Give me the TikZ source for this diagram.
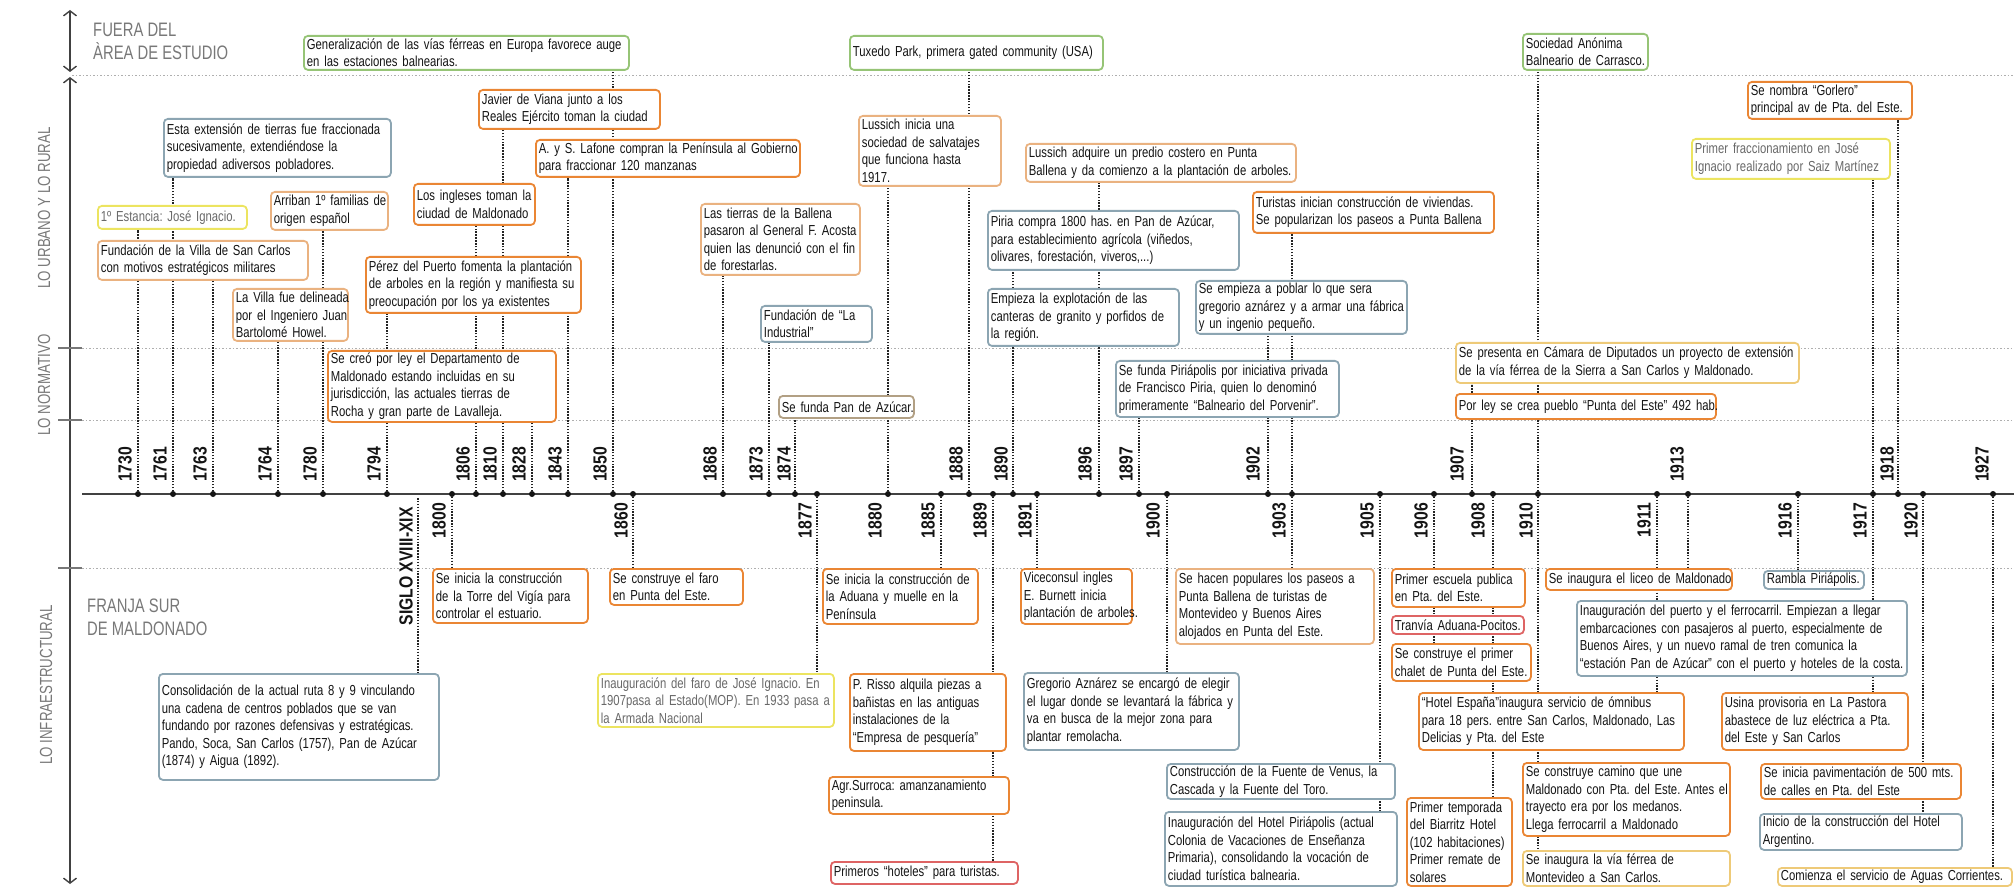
\documentclass[tikz,border=0pt]{standalone}
\usepackage{fontspec}
\setmainfont{Liberation Sans}[FakeStretch=0.78]
\newfontfamily\yrfont{Liberation Sans}[FakeStretch=0.83]
\newfontfamily\lblfont{Liberation Sans}[FakeStretch=0.76]
\usetikzlibrary{arrows.meta,backgrounds}
\frenchspacing

\definecolor{txt}{RGB}{20,20,20}
\definecolor{txtg}{RGB}{105,105,105}
\definecolor{lblc}{RGB}{120,120,120}
\definecolor{lnkc}{RGB}{35,35,35}
\definecolor{gridc}{RGB}{175,175,175}
\definecolor{axc}{RGB}{65,65,65}
\definecolor{cOrg}{RGB}{234,134,52}
\definecolor{cLOrg}{RGB}{234,178,128}
\definecolor{cBlu}{RGB}{140,165,178}
\definecolor{cYel}{RGB}{236,228,96}
\definecolor{cGrn}{RGB}{150,196,118}
\definecolor{cRed}{RGB}{222,100,100}
\definecolor{cTan}{RGB}{178,160,132}
\definecolor{cYOrg}{RGB}{238,202,120}

\newcommand\jline[1]{\makebox[\linewidth][s]{#1}}

\tikzset{
  evbox/.style={draw, rounded corners=4pt, line width=1.8pt, fill=white,
    inner xsep=3pt, inner ysep=2pt, anchor=north west, align=left,
    text=txt, font=\frenchspacing\fontsize{14.5}{17.5}\selectfont},
  bxorg/.style={evbox, draw=cOrg},
  bxlorg/.style={evbox, draw=cLOrg},
  bxblu/.style={evbox, draw=cBlu},
  bxyel/.style={evbox, draw=cYel, text=txtg},
  bxgrn/.style={evbox, draw=cGrn},
  bxred/.style={evbox, draw=cRed},
  bxtan/.style={evbox, draw=cTan},
  bxyorg/.style={evbox, draw=cYOrg},
  yru/.style={rotate=90, anchor=west, inner sep=0pt, text=txt,
    font=\yrfont\bfseries\fontsize{19}{19}\selectfont},
  yrd/.style={yru, anchor=east},
  lnk/.style={draw=lnkc, line width=1.7pt, dash pattern=on 1.5pt off 1.4pt},
  guide/.style={draw=gridc, line width=0.9pt, dash pattern=on 1.5pt off 2pt},
  tick/.style={draw=lblc, line width=1.2pt},
  dotc/.style={fill=txt},
  side/.style={rotate=90, inner sep=0pt, text=lblc,
    font=\lblfont\fontsize{17.5}{17.5}\selectfont},
  zone/.style={anchor=north west, align=left, inner sep=0pt, text=lblc,
    font=\lblfont\fontsize{19.5}{23}\selectfont},
  axarr/.style={draw=axc, line width=1.4pt, >={Straight Barb[length=5pt,width=13pt]}, <->}
}

\begin{document}
\begin{tikzpicture}[x=1pt,y=-1pt]
\useasboundingbox (0,0) rectangle (2014,893);

% ejes y zonas
\draw[axarr] (70,10) -- (70,72);
\draw[axarr] (70,77) -- (70,884);
\draw[tick] (58,348) -- (82,348);
\draw[tick] (58,420) -- (82,420);
\draw[tick] (58,568) -- (82,568);
\node[zone] (fuera) at (93,23) {FUERA DEL\\ÀREA DE ESTUDIO};
\node[zone] (franja) at (87,599) {FRANJA SUR\\DE MALDONADO};
\node[side] (urbano) at (44,208) {LO URBANO Y LO RURAL};
\node[side] (normativo) at (44,385) {LO NORMATIVO};
\node[side] (infra) at (46,685) {LO INFRAESTRUCTURAL};

% fuera del area de estudio
\node[bxgrn, text width=319pt, minimum height=34pt] (gen) at (303,35) {\jline{Generalización de las vías férreas en Europa favorece auge}\\ en las estaciones balnearias.};
\node[bxgrn, text width=247pt, minimum height=34pt] (tux) at (849,35) {\mbox{Tuxedo Park, primera gated community (USA)}};
\node[bxgrn, text width=119pt, minimum height=36pt] (carr) at (1522,33) {\jline{Sociedad Anónima}\\ \mbox{Balneario de Carrasco.}};

% lo urbano y lo rural / lo normativo
\node[bxblu, text width=221pt, minimum height=58pt] (ext) at (163,118) {\jline{Esta extensión de tierras fue fraccionada}\\ \jline{sucesivamente, extendiéndose la}\\ propiedad adiversos pobladores.};
\node[bxyel, text width=143pt, minimum height=23pt] (est) at (97,205) {\mbox{1º Estancia: José Ignacio.}};
\node[bxlorg, text width=111pt, minimum height=38pt] (arr) at (270,191) {\jline{Arriban 1º familias de}\\ origen español};
\node[bxlorg, text width=204pt, minimum height=39pt] (fsc) at (97,240) {\jline{Fundación de la Villa de San Carlos}\\ con motivos estratégicos militares};
\node[bxlorg, text width=109pt, minimum height=52pt] (vil) at (232,288) {\jline{La Villa fue delineada}\\ \jline{por el Ingeniero Juan}\\ Bartolomé Howel.};
\node[bxorg, text width=175pt, minimum height=39pt] (via) at (478,89) {\jline{Javier de Viana junto a los}\\ Reales Ejército toman la ciudad};
\node[bxorg, text width=115pt, minimum height=41pt] (ing) at (413,183) {\jline{Los ingleses toman la}\\ ciudad de Maldonado};
\node[bxorg, text width=209pt, minimum height=56pt] (per) at (365,256) {\jline{Pérez del Puerto fomenta la plantación}\\ \jline{de arboles en la región y manifiesta su}\\ preocupación por los ya existentes};
\node[bxorg, text width=222pt, minimum height=71pt] (cre) at (327,350) {\jline{Se creó por ley el Departamento de}\\ \jline{Maldonado estando incluidas en su}\\ \jline{jurisdicción, las actuales tierras de}\\ Rocha y gran parte de Lavalleja.};
\node[bxorg, text width=258pt, minimum height=37pt] (laf) at (535,139) {\jline{A. y S. Lafone compran la Península al Gobierno}\\ para fraccionar 120 manzanas};
\node[bxlorg, text width=153pt, minimum height=71pt] (bal) at (700,203) {\jline{Las tierras de la Ballena}\\ \jline{pasaron al General F. Acosta}\\ \jline{quien las denunció con el fin}\\ de forestarlas.};
\node[bxblu, text width=105pt, minimum height=36pt] (ind) at (760,305) {\jline{Fundación de “La}\\ Industrial”};
\node[bxtan, text width=129pt, minimum height=22pt] (paz) at (778,395) {\mbox{Se funda Pan de Azúcar.}};
\node[bxlorg, text width=136pt, minimum height=70pt] (lua) at (858,115) {\jline{Lussich inicia una}\\ \jline{sociedad de salvatajes}\\ \jline{que funciona hasta}\\ 1917.};
\node[bxlorg, text width=264pt, minimum height=38pt] (lub) at (1025,143) {\jline{Lussich adquire un predio costero en Punta}\\ Ballena y da comienzo a la plantación de arboles.};
\node[bxblu, text width=245pt, minimum height=59pt] (pir) at (987,210) {\jline{Piria compra 1800 has. en Pan de Azúcar,}\\ \jline{para establecimiento agrícola (viñedos,}\\ olivares, forestación, viveros,...)};
\node[bxblu, text width=185pt, minimum height=57pt] (emp) at (987,288) {\jline{Empieza la explotación de las}\\ \jline{canteras de granito y porfidos de}\\ la región.};
\node[bxorg, text width=235pt, minimum height=41pt] (tur) at (1252,191) {\jline{Turistas inician construcción de viviendas.}\\ Se popularizan los paseos a Punta Ballena};
\node[bxblu, text width=205pt, minimum height=53pt] (pob) at (1195,280) {\jline{Se empieza a poblar lo que sera}\\ \jline{gregorio aznárez y a armar una fábrica}\\ y un ingenio pequeño.};
\node[bxblu, text width=217pt, minimum height=56pt] (ppo) at (1115,360) {\jline{Se funda Piriápolis por iniciativa privada}\\ \jline{de Francisco Piria, quien lo denominó}\\ primeramente “Balneario del Porvenir”.};
\node[bxorg, text width=158pt, minimum height=37pt] (gor) at (1747,81) {\jline{Se nombra “Gorlero”}\\ principal av de Pta. del Este.};
\node[bxyel, text width=192pt, minimum height=40pt] (fra) at (1691,138) {\jline{Primer fraccionamiento en José}\\ Ignacio realizado por Saiz Martínez};
\node[bxyorg, text width=337pt, minimum height=40pt] (pre) at (1455,342) {\jline{Se presenta en Cámara de Diputados un proyecto de extensión}\\ de la vía férrea de la Sierra a San Carlos y Maldonado.};
\node[bxorg, text width=254pt, minimum height=25pt] (ley) at (1455,393) {\mbox{Por ley se crea pueblo “Punta del Este” 492 hab.}};

% lo infraestructural
\node[bxblu, text width=274pt, minimum height=106pt] (con) at (158,673) {\jline{Consolidación de la actual ruta 8 y 9 vinculando}\\ \jline{una cadena de centros poblados que se van}\\ \jline{fundando por razones defensivas y estratégicas.}\\ \jline{Pando, Soca, San Carlos (1757), Pan de Azúcar}\\ (1874) y Aigua (1892).};
\node[bxorg, text width=149pt, minimum height=54pt] (tor) at (432,568) {\jline{Se inicia la construcción}\\ \jline{de la Torre del Vigía para}\\ controlar el estuario.};
\node[bxorg, text width=127pt, minimum height=36pt] (fpe) at (609,568) {\jline{Se construye el faro}\\ en Punta del Este.};
\node[bxorg, text width=149pt, minimum height=55pt] (adu) at (822,568) {\jline{Se inicia la construcción de}\\ \jline{la Aduana y muelle en la}\\ Península};
\node[bxyel, text width=230pt, minimum height=53pt] (fji) at (597,673) {\jline{Inauguración del faro de José Ignacio. En}\\ \jline{1907pasa al Estado(MOP). En 1933 pasa a}\\ la Armada Nacional};
\node[bxorg, text width=150pt, minimum height=77pt] (ris) at (849,673) {\jline{P. Risso alquila piezas a}\\ \jline{bañistas en las antiguas}\\ \jline{instalaciones de la}\\ “Empresa de pesquería”};
\node[bxorg, text width=174pt, minimum height=37pt] (sur) at (828,776) {\jline{Agr.Surroca: amanzanamiento}\\ peninsula.};
\node[bxred, text width=181pt, minimum height=22pt] (hot) at (830,861) {\mbox{Primeros “hoteles” para turistas.}};
\node[bxorg, text width=105pt, minimum height=55pt] (vic) at (1020,568) {\jline{Viceconsul ingles}\\ \jline{E. Burnett inicia}\\ \mbox{plantación de arboles.}};
\node[bxblu, text width=209pt, minimum height=77pt] (gre) at (1023,672) {\jline{Gregorio Aznárez se encargó de elegir}\\ \jline{el lugar donde se levantará la fábrica y}\\ \jline{va en busca de la mejor zona para}\\ plantar remolacha.};
\node[bxlorg, text width=192pt, minimum height=75pt] (pas) at (1175,568) {\jline{Se hacen populares los paseos a}\\ \jline{Punta Ballena de turistas de}\\ \jline{Montevideo y Buenos Aires}\\ alojados en Punta del Este.};
\node[bxblu, text width=222pt, minimum height=35pt] (ven) at (1166,763) {\jline{Construcción de la Fuente de Venus, la}\\ Cascada y la Fuente del Toro.};
\node[bxblu, text width=226pt, minimum height=74pt] (hpi) at (1164,811) {\jline{Inauguración del Hotel Piriápolis (actual}\\ \jline{Colonia de Vacaciones de Enseñanza}\\ \jline{Primaria), consolidando la vocación de}\\ ciudad turística balnearia.};
\node[bxorg, text width=127pt, minimum height=38pt] (esc) at (1391,568) {\jline{Primer escuela publica}\\ en Pta. del Este.};
\node[bxred, text width=126pt, minimum height=18pt] (tra) at (1391,615) {\mbox{Tranvía Aduana-Pocitos.}};
\node[bxorg, text width=133pt, minimum height=37pt] (cha) at (1391,643) {\jline{Se construye el primer}\\ \mbox{chalet de Punta del Este.}};
\node[bxorg, text width=259pt, minimum height=57pt] (esp) at (1418,692) {\jline{“Hotel España”inaugura servicio de ómnibus}\\ \jline{para 18 pers. entre San Carlos, Maldonado, Las}\\ Delicias y Pta. del Este};
\node[bxorg, text width=99pt, minimum height=88pt] (tem) at (1406,797) {\jline{Primer temporada}\\ \jline{del Biarritz Hotel}\\ \jline{(102 habitaciones)}\\ \jline{Primer remate de}\\ solares};
\node[bxorg, text width=201pt, minimum height=73pt] (cam) at (1522,762) {\jline{Se construye camino que une}\\ \jline{Maldonado con Pta. del Este. Antes el}\\ trayecto era por los medanos.\\ Llega ferrocarril a Maldonado};
\node[bxyorg, text width=201pt, minimum height=35pt] (vfe) at (1522,850) {\jline{Se inaugura la vía férrea de}\\ Montevideo a San Carlos.};
\node[bxorg, text width=180pt, minimum height=21pt] (lic) at (1545,568) {\mbox{Se inaugura el liceo de Maldonado}};
\node[bxblu, text width=324pt, minimum height=75pt] (pue) at (1576,600) {\jline{Inauguración del puerto y el ferrocarril. Empiezan a llegar}\\ \jline{embarcaciones con pasajeros al puerto, especialmente de}\\ \jline{Buenos Aires, y un nuevo ramal de tren comunica la}\\ “estación Pan de Azúcar” con el puerto y hoteles de la costa.};
\node[bxblu, text width=94pt, minimum height=18pt] (ram) at (1763,570) {\mbox{Rambla Piriápolis.}};
\node[bxorg, text width=180pt, minimum height=57pt] (usi) at (1721,692) {\jline{Usina provisoria en La Pastora}\\ \jline{abastece de luz eléctrica a Pta.}\\ del Este y San Carlos};
\node[bxorg, text width=194pt, minimum height=35pt] (pav) at (1760,763) {\jline{Se inicia pavimentación de 500 mts.}\\ de calles en Pta. del Este};
\node[bxblu, text width=196pt, minimum height=36pt] (arg) at (1759,813) {\jline{Inicio de la construcción del Hotel}\\ Argentino.};
\node[bxyorg, text width=228pt, minimum height=18pt] (agu) at (1777,867) {\mbox{Comienza el servicio de Aguas Corrientes.}};

% linea de tiempo
\draw[draw=axc, line width=2pt] (82,494) -- (2014,494);
\coordinate (ysig) at (418,498);
\node[yrd] (lsig) at (406,507) {SIGLO XVIII-XIX};
\fill[dotc] (138,494) coordinate (y1730) circle (3pt); \node[yru] (l1730) at (125,482) {1730};
\fill[dotc] (173,494) coordinate (y1761) circle (3pt); \node[yru] (l1761) at (160,482) {1761};
\fill[dotc] (213,494) coordinate (y1763) circle (3pt); \node[yru] (l1763) at (200,482) {1763};
\fill[dotc] (278,494) coordinate (y1764) circle (3pt); \node[yru] (l1764) at (265,482) {1764};
\fill[dotc] (323,494) coordinate (y1780) circle (3pt); \node[yru] (l1780) at (310,482) {1780};
\fill[dotc] (387,494) coordinate (y1794) circle (3pt); \node[yru] (l1794) at (374,482) {1794};
\fill[dotc] (452,494) coordinate (y1800) circle (3pt); \node[yrd] (l1800) at (439,503) {1800};
\fill[dotc] (476,494) coordinate (y1806) circle (3pt); \node[yru] (l1806) at (463,482) {1806};
\fill[dotc] (503,494) coordinate (y1810) circle (3pt); \node[yru] (l1810) at (490,482) {1810};
\fill[dotc] (532,494) coordinate (y1828) circle (3pt); \node[yru] (l1828) at (519,482) {1828};
\fill[dotc] (568,494) coordinate (y1843) circle (3pt); \node[yru] (l1843) at (555,482) {1843};
\fill[dotc] (613,494) coordinate (y1850) circle (3pt); \node[yru] (l1850) at (600,482) {1850};
\fill[dotc] (633,494) coordinate (y1860) circle (3pt); \node[yrd] (l1860) at (621,503) {1860};
\fill[dotc] (723,494) coordinate (y1868) circle (3pt); \node[yru] (l1868) at (710,482) {1868};
\fill[dotc] (769,494) coordinate (y1873) circle (3pt); \node[yru] (l1873) at (756,482) {1873};
\fill[dotc] (795,494) coordinate (y1874) circle (3pt); \node[yru] (l1874) at (784,482) {1874};
\fill[dotc] (817,494) coordinate (y1877) circle (3pt); \node[yrd] (l1877) at (805,503) {1877};
\fill[dotc] (888,494) coordinate (y1880) circle (3pt); \node[yrd] (l1880) at (875,503) {1880};
\fill[dotc] (941,494) coordinate (y1885) circle (3pt); \node[yrd] (l1885) at (928,503) {1885};
\fill[dotc] (969,494) coordinate (y1888) circle (3pt); \node[yru] (l1888) at (956,482) {1888};
\fill[dotc] (993,494) coordinate (y1889) circle (3pt); \node[yrd] (l1889) at (980,503) {1889};
\fill[dotc] (1013,494) coordinate (y1890) circle (3pt); \node[yru] (l1890) at (1001,482) {1890};
\fill[dotc] (1037,494) coordinate (y1891) circle (3pt); \node[yrd] (l1891) at (1025,503) {1891};
\fill[dotc] (1099,494) coordinate (y1896) circle (3pt); \node[yru] (l1896) at (1085,482) {1896};
\fill[dotc] (1139,494) coordinate (y1897) circle (3pt); \node[yru] (l1897) at (1126,482) {1897};
\fill[dotc] (1167,494) coordinate (y1900) circle (3pt); \node[yrd] (l1900) at (1153,503) {1900};
\fill[dotc] (1268,494) coordinate (y1902) circle (3pt); \node[yru] (l1902) at (1253,482) {1902};
\fill[dotc] (1292,494) coordinate (y1903) circle (3pt); \node[yrd] (l1903) at (1279,503) {1903};
\fill[dotc] (1380,494) coordinate (y1905) circle (3pt); \node[yrd] (l1905) at (1367,503) {1905};
\fill[dotc] (1434,494) coordinate (y1906) circle (3pt); \node[yrd] (l1906) at (1421,503) {1906};
\fill[dotc] (1472,494) coordinate (y1907) circle (3pt); \node[yru] (l1907) at (1457,482) {1907};
\fill[dotc] (1493,494) coordinate (y1908) circle (3pt); \node[yrd] (l1908) at (1478,503) {1908};
\fill[dotc] (1538,494) coordinate (y1910) circle (3pt); \node[yrd] (l1910) at (1526,503) {1910};
\fill[dotc] (1657,494) coordinate (y1911) circle (3pt); \node[yrd] (l1911) at (1644,503) {1911};
\fill[dotc] (1688,494) coordinate (y1913) circle (3pt); \node[yru] (l1913) at (1677,482) {1913};
\fill[dotc] (1798,494) coordinate (y1916) circle (3pt); \node[yrd] (l1916) at (1785,503) {1916};
\fill[dotc] (1873,494) coordinate (y1917) circle (3pt); \node[yrd] (l1917) at (1860,503) {1917};
\fill[dotc] (1898,494) coordinate (y1918) circle (3pt); \node[yru] (l1918) at (1887,482) {1918};
\fill[dotc] (1923,494) coordinate (y1920) circle (3pt); \node[yrd] (l1920) at (1911,503) {1920};
\fill[dotc] (1993,494) coordinate (y1927) circle (3pt); \node[yru] (l1927) at (1982,482) {1927};

\begin{pgfonlayer}{background}
\draw[guide] (72,75) -- (2014,75);
\draw[guide] (82,348) -- (2014,348);
\draw[guide] (82,420) -- (2014,420);
\draw[guide] (82,568) -- (2014,568);
% hacia arriba
\draw[lnk] (y1730) -- (y1730 |- est.south);
\draw[lnk] (y1761) -- (y1761 |- ext.south);
\draw[lnk] (y1763) -- (y1763 |- fsc.south);
\draw[lnk] (y1764) -- (y1764 |- vil.south);
\draw[lnk] (y1780) -- (y1780 |- arr.south);
\draw[lnk] (y1794) -- (y1794 |- per.south);
\draw[lnk] (y1806) -- (y1806 |- ing.south);
\draw[lnk] (y1810) -- (y1810 |- via.south);
\draw[lnk] (y1828) -- (y1828 |- cre.south);
\draw[lnk] (y1843) -- (y1843 |- laf.south);
\draw[lnk] (y1850) -- (y1850 |- gen.south);
\draw[lnk] (y1868) -- (y1868 |- bal.south);
\draw[lnk] (y1873) -- (y1873 |- ind.south);
\draw[lnk] (y1874) -- (y1874 |- paz.south);
\draw[lnk] (y1880) -- (y1880 |- lua.south);
\draw[lnk] (y1888) -- (y1888 |- tux.south);
\draw[lnk] (y1890) -- (y1890 |- pir.south);
\draw[lnk] (y1896) -- (y1896 |- lub.south);
\draw[lnk] (y1897) -- (y1897 |- ppo.south);
\draw[lnk] (y1902) -- (y1902 |- pob.south);
\draw[lnk] (y1903) -- (y1903 |- tur.south);
\draw[lnk] (y1907) -- (y1907 |- pre.south);
\draw[lnk] (y1910) -- (y1910 |- carr.south);
\draw[lnk] (y1917) -- (y1917 |- fra.south);
\draw[lnk] (y1918) -- (y1918 |- gor.south);
% hacia abajo
\draw[lnk] (ysig) -- (ysig |- con.north);
\draw[lnk] (y1800) -- (y1800 |- tor.north);
\draw[lnk] (y1860) -- (y1860 |- fpe.north);
\draw[lnk] (y1877) -- (y1877 |- fji.north);
\draw[lnk] (y1885) -- (y1885 |- adu.north);
\draw[lnk] (y1889) -- (y1889 |- hot.north);
\draw[lnk] (y1891) -- (y1891 |- vic.north);
\draw[lnk] (y1900) -- (y1900 |- gre.north);
\draw[lnk] (y1903) -- (y1903 |- pas.north);
\draw[lnk] (y1905) -- (y1905 |- hpi.north);
\draw[lnk] (y1906) -- (y1906 |- cha.north);
\draw[lnk] (y1908) -- (y1908 |- tem.north);
\draw[lnk] (y1910) -- (y1910 |- vfe.north);
\draw[lnk] (y1911) -- (y1911 |- esp.north);
\draw[lnk] (y1913) -- (y1913 |- lic.north);
\draw[lnk] (y1916) -- (y1916 |- ram.north);
\draw[lnk] (y1917) -- (y1917 |- usi.north);
\draw[lnk] (y1920) -- (y1920 |- arg.north);
\draw[lnk] (y1927) -- (y1927 |- agu.north);
\end{pgfonlayer}
\end{tikzpicture}
\end{document}
